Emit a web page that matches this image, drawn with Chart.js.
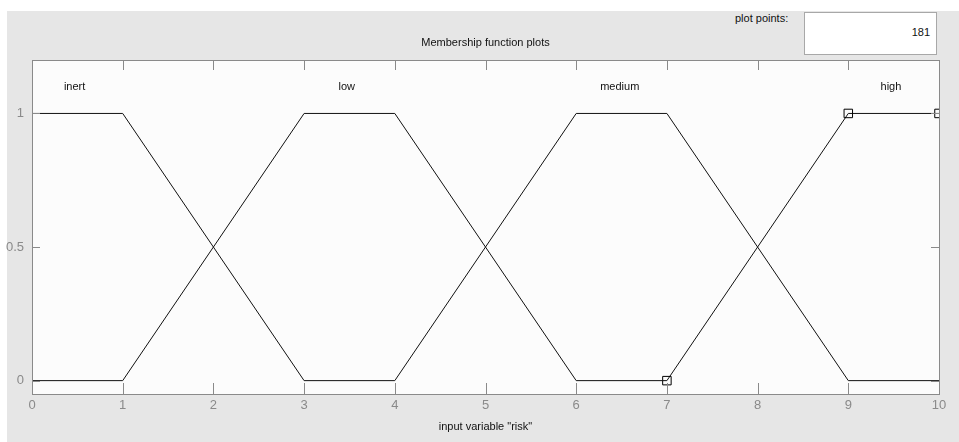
<!DOCTYPE html>
<html>
<head>
<meta charset="utf-8">
<script src="https://cdn.jsdelivr.net/npm/chart.js@4/dist/chart.umd.min.js"></script>
<style>
  body { margin: 0; background: #ffffff; width: 959px; height: 442px; overflow: hidden; position: relative; font-family: "Liberation Sans", Arial, sans-serif; }
  #panel { position: absolute; left: 7px; top: 11px; right: 0; bottom: 0; background: #e6e6e6; }
  #cv { position: absolute; left: 0; top: 0; }
  #ppLabel { position: absolute; left: 735px; top: 12px; font-size: 11px; color: #111; }
  #ppBox { position: absolute; left: 804px; top: 12px; width: 131px; height: 41px; background: #ffffff; border: 1px solid #a8a8a8; }
  #ppVal { position: absolute; right: 6px; top: 13px; font-size: 11px; color: #111; }
</style>
</head>
<body>
<div id="panel"></div>
<div id="ppLabel">plot points:</div>
<div id="ppBox"><span id="ppVal"></span></div>
<canvas id="cv" width="959" height="442"></canvas>
<script>
// datos de las funciones de pertenencia
const xTicks = [0, 1, 2, 3, 4, 5, 6, 7, 8, 9, 10];
const yTicks = [0, 0.5, 1];
const mfNames = ['inert', 'low', 'medium', 'high'];
const mfLabelX = [0.47, 3.47, 6.48, 9.47];
const mfLabelY = 1.1;

const inertX = [0, 1, 3];
const inertY = [1, 1, 0];
const lowX = [0, 1, 3, 4, 6, 7];
const lowY = [0, 0, 1, 1, 0, 0];
const mediumX = [3, 4, 6, 7, 9, 10];
const mediumY = [0, 0, 1, 1, 0, 0];
const highX = [7, 9, 10];
const highY = [0, 1, 1];

const plotPoints = 181;
document.getElementById('ppVal').textContent = plotPoints;

function puntos(xs, ys) {
    return xs.map((x, i) => ({ x: x, y: ys[i] }));
}

// fondo del area, caja y marcas hacia adentro
const marcoPlugin = {
    id: 'marco',
    beforeDatasetsDraw(chart) {
        const a = chart.chartArea;
        const ctx = chart.ctx;
        ctx.save();
        ctx.fillStyle = '#fcfcfc';
        ctx.fillRect(a.left, a.top, a.right - a.left, a.bottom - a.top);
        ctx.restore();
    },
    afterDraw(chart) {
        const a = chart.chartArea;
        const ctx = chart.ctx;
        const sx = chart.scales.x, sy = chart.scales.y;
        ctx.save();
        ctx.strokeStyle = '#8a8a8a';
        ctx.lineWidth = 1;
        ctx.beginPath();
        xTicks.forEach(v => {
            const px = Math.round(sx.getPixelForValue(v)) + 0.5;
            ctx.moveTo(px, a.bottom); ctx.lineTo(px, a.bottom - 11);
            ctx.moveTo(px, a.top); ctx.lineTo(px, a.top + 10);
        });
        yTicks.forEach(v => {
            const py = Math.round(sy.getPixelForValue(v)) + 0.5;
            ctx.moveTo(a.left, py); ctx.lineTo(a.left + 8, py);
            ctx.moveTo(a.right, py); ctx.lineTo(a.right - 8, py);
        });
        ctx.stroke();
        ctx.strokeRect(Math.round(a.left) + 0.5, Math.round(a.top) + 0.5, Math.round(a.right - a.left), Math.round(a.bottom - a.top));

        // nombres de cada funcion
        ctx.fillStyle = '#111111';
        ctx.font = '11px "Liberation Sans", Arial, sans-serif';
        ctx.textAlign = 'center';
        ctx.textBaseline = 'middle';
        mfNames.forEach((n, i) => {
            ctx.fillText(n, sx.getPixelForValue(mfLabelX[i]), sy.getPixelForValue(mfLabelY));
        });
        ctx.restore();
    }
};

const linea = { borderColor: '#111111', borderWidth: 1, showLine: true, fill: false, pointRadius: 0, pointHoverRadius: 0 };

new Chart(document.getElementById('cv').getContext('2d'), {
    type: 'scatter',
    data: {
        datasets: [
            Object.assign({ label: 'inert', data: puntos(inertX, inertY) }, linea),
            Object.assign({ label: 'low', data: puntos(lowX, lowY) }, linea),
            Object.assign({ label: 'medium', data: puntos(mediumX, mediumY) }, linea),
            Object.assign({}, linea, {
                label: 'high', data: puntos(highX, highY),
                pointRadius: 6, pointStyle: 'rect', pointBorderColor: '#000000',
                pointBackgroundColor: 'rgba(0,0,0,0)', pointBorderWidth: 1
            })
        ]
    },
    options: {
        responsive: false,
        animation: false,
        events: [],
        layout: { padding: { left: 0, right: 20, top: 0, bottom: 0 } },
        plugins: {
            legend: { display: false },
            tooltip: { enabled: false },
            title: {
                display: true,
                text: 'Membership function plots',
                fullSize: false,
                color: '#111111',
                font: { family: '"Liberation Sans", Arial, sans-serif', size: 11, weight: 'normal', lineHeight: 1.2 },
                padding: { top: 36.4, bottom: 10.4 }
            }
        },
        scales: {
            x: {
                type: 'linear', min: 0, max: 10,
                grid: { display: false, drawTicks: false }, border: { display: false },
                afterBuildTicks: s => { s.ticks = xTicks.map(v => ({ value: v })); },
                afterFit: s => { s.height = 48; },
                ticks: { color: '#8a8a8a', padding: 4, callback: v => String(v), font: { family: '"Liberation Sans Narrow", "Liberation Sans", Arial, sans-serif', size: 13 } },
                title: {
                    display: true, text: 'input variable "risk"', color: '#111111',
                    font: { family: '"Liberation Sans", Arial, sans-serif', size: 11, lineHeight: 1.2 },
                    padding: { top: 0, bottom: 8.4 }
                }
            },
            y: {
                type: 'linear', min: -0.05, max: 1.2,
                grid: { display: false, drawTicks: false }, border: { display: false },
                afterBuildTicks: s => { s.ticks = yTicks.map(v => ({ value: v })); },
                afterFit: s => { s.width = 32; },
                ticks: { color: '#8a8a8a', padding: 8, callback: v => String(v), font: { family: '"Liberation Sans Narrow", "Liberation Sans", Arial, sans-serif', size: 13 } }
            }
        }
    },
    plugins: [marcoPlugin]
});
</script>
</body>
</html>
